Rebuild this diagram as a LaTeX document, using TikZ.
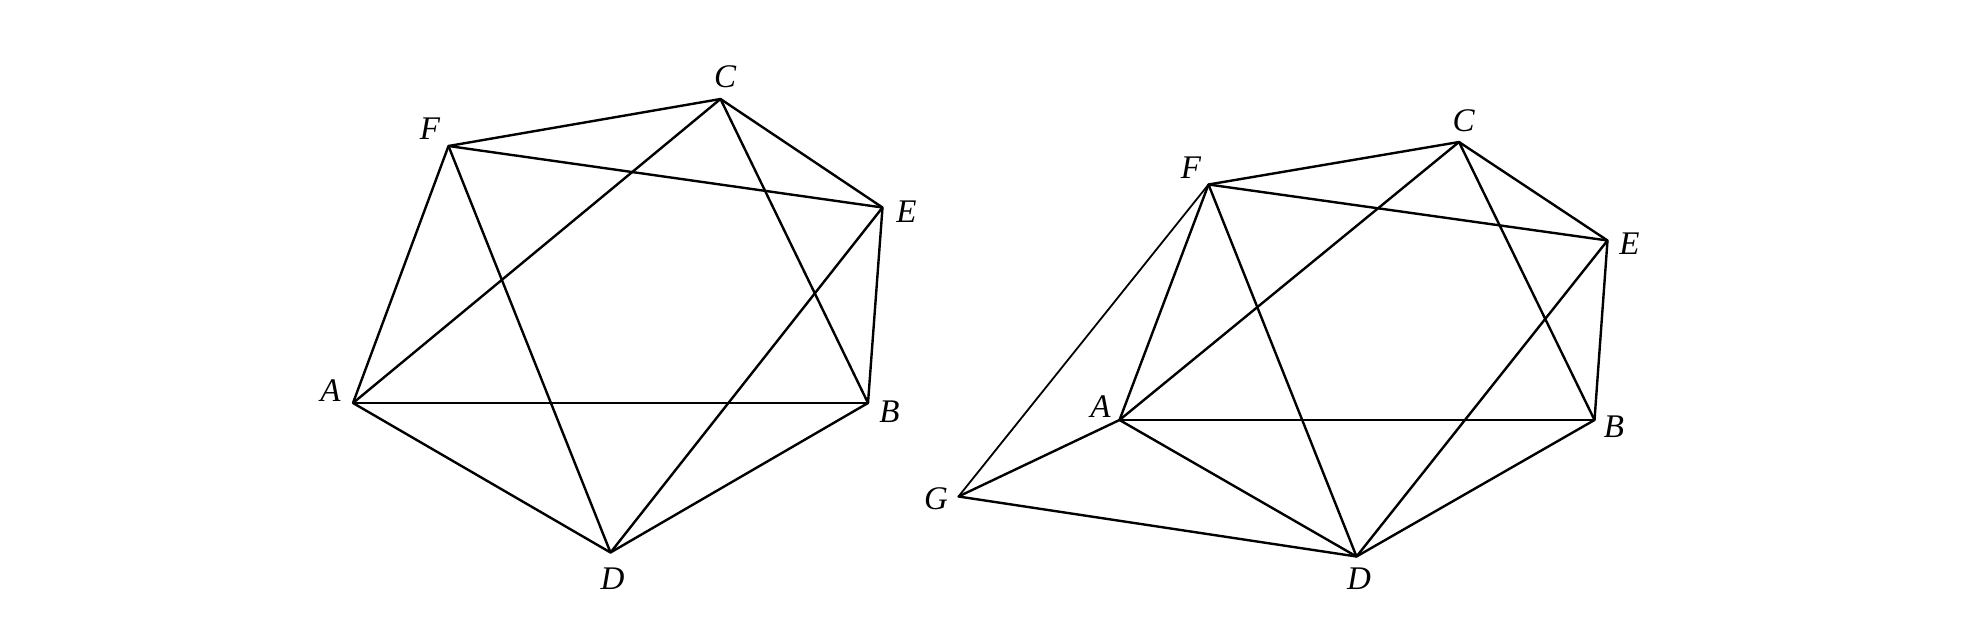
\documentclass[tikz,border=0pt]{standalone}
\usepackage{fontspec}
\setmainfont{Liberation Serif}
\usetikzlibrary{calc}
\tikzset{
	edge/.style={line width=1.2pt, line join=round},
	edgethin/.style={line width=0.9pt},
	lbl/.style={inner sep=0pt, font=\fontsize{16.5}{20}\selectfont\itshape}
}

\begin{document}
\begin{tikzpicture}[x=0.5pt, y=-0.5pt]
			%%%%% START %%%%%
			\useasboundingbox (0, 0) rectangle (1970, 633);
			
			% left hexagon
			\coordinate (A) at (353, 403);
			\coordinate (F) at (448.5, 146);
			\coordinate (C) at (720.5, 99);
			\coordinate (E) at (882.5, 207.5);
			\coordinate (B) at (868, 403);
			\coordinate (D) at (610.5, 552.5);
			
			\draw[edge] (A) -- (F) -- (C) -- (E) -- (B) -- (D) -- cycle;
			\draw[edge] (A) -- (B);
			\draw[edge] (A) -- (C);
			\draw[edge] (F) -- (D);
			\draw[edge] (F) -- (E);
			\draw[edge] (C) -- (B);
			\draw[edge] (E) -- (D);
			
			\node[lbl] (lA) at (330.5, 391) {A};
			\node[lbl] (lF) at (430, 128.5) {F};
			\node[lbl] (lC) at (725, 77) {C};
			\node[lbl] (lE) at (906.5, 211.5) {E};
			\node[lbl] (lB) at (889.5, 412) {B};
			\node[lbl] (lD) at (612.5, 579) {D};
			
			% right hexagon with G
			\coordinate (A2) at (1119.5, 420);
			\coordinate (F2) at (1208.5, 184.5);
			\coordinate (C2) at (1459, 142);
			\coordinate (E2) at (1607.5, 240.5);
			\coordinate (B2) at (1594.5, 420);
			\coordinate (D2) at (1356.5, 556.5);
			\coordinate (G) at (958.5, 496.5);
			
			\draw[edge] (A2) -- (F2) -- (C2) -- (E2) -- (B2) -- (D2) -- cycle;
			\draw[edge] (A2) -- (B2);
			\draw[edge] (A2) -- (C2);
			\draw[edge] (F2) -- (D2);
			\draw[edge] (F2) -- (E2);
			\draw[edge] (C2) -- (B2);
			\draw[edge] (E2) -- (D2);
			\draw[edge] (D2) -- (G) -- (A2);
			\draw[edgethin] (G) -- (F2);
			
			\node[lbl] (lA2) at (1100.5, 407) {A};
			\node[lbl] (lF2) at (1191, 167.5) {F};
			\node[lbl] (lC2) at (1463.5, 120.5) {C};
			\node[lbl] (lE2) at (1629.5, 244) {E};
			\node[lbl] (lB2) at (1614, 427) {B};
			\node[lbl] (lG) at (936, 499) {G};
			\node[lbl] (lD2) at (1359, 579) {D};
			
			%%%%% END %%%%%
\end{tikzpicture}
\end{document}
